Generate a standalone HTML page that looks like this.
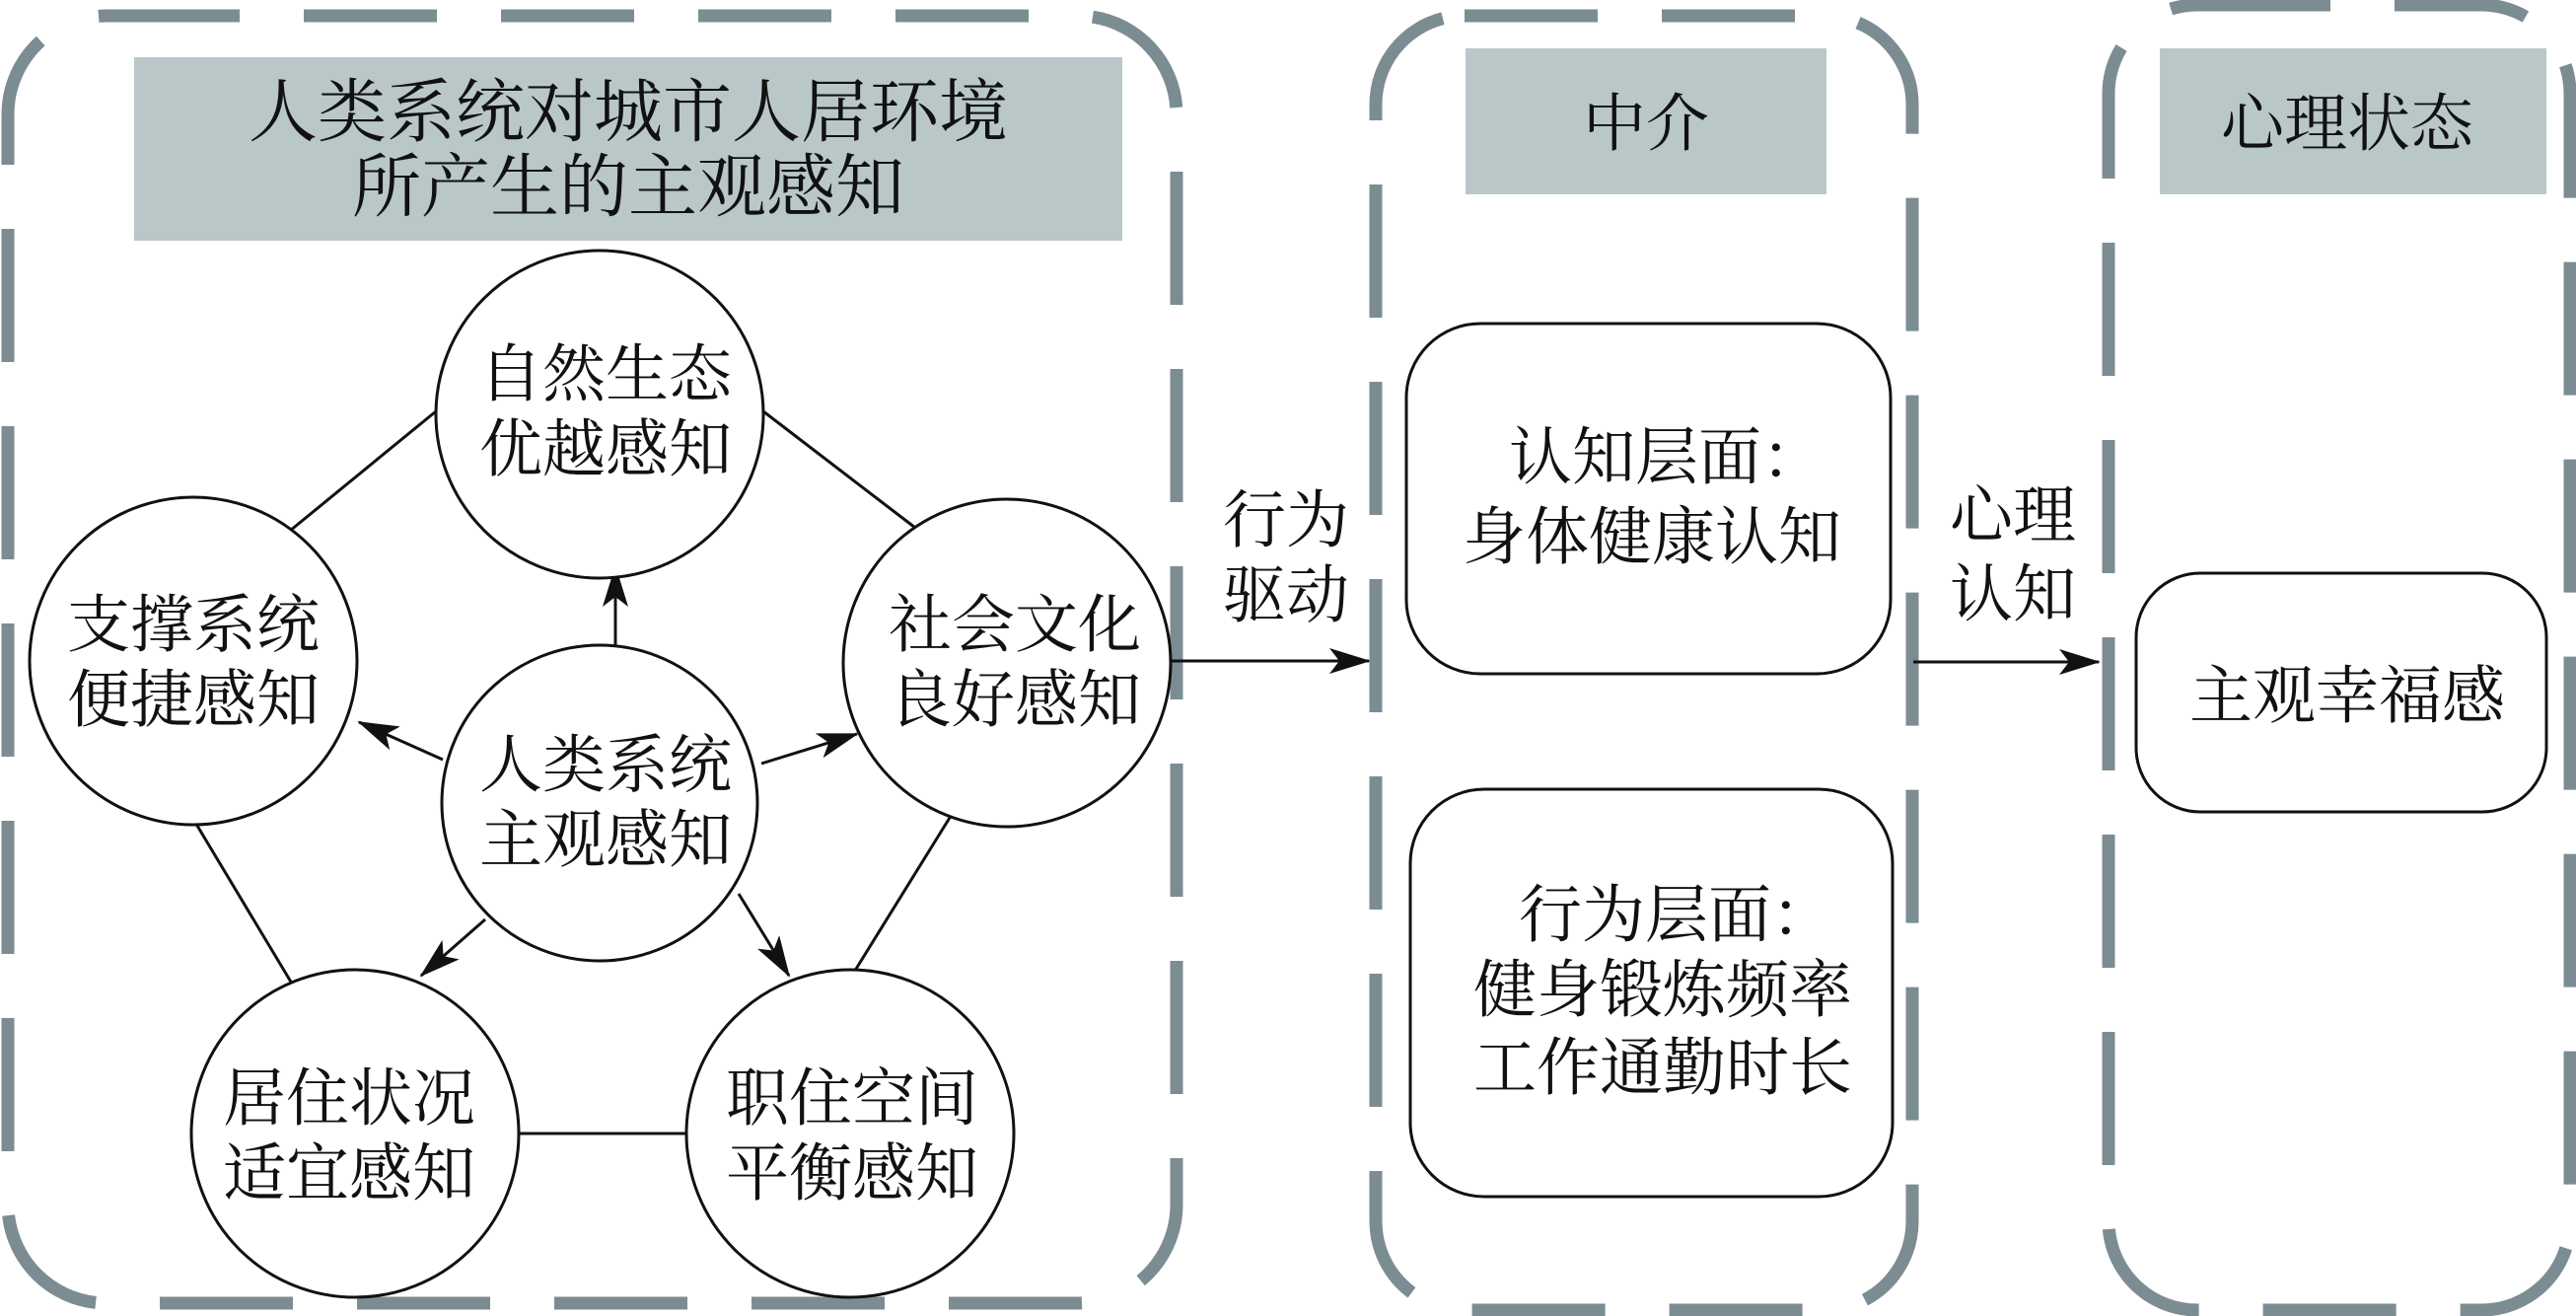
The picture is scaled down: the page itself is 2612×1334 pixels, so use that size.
<!DOCTYPE html>
<html><head><meta charset="utf-8"><style>
html,body{margin:0;padding:0;background:#fff;}
svg{display:block;}
text{font-family:"Liberation Serif","Noto Serif CJK SC",serif;fill:#111;text-anchor:middle;dominant-baseline:central;}
</style></head><body>
<svg width="2612" height="1334" viewBox="0 0 2612 1334" xmlns="http://www.w3.org/2000/svg">
<defs>
<marker id="ah" markerWidth="44" markerHeight="26" refX="40" refY="13" orient="auto" markerUnits="userSpaceOnUse">
<path d="M0,0 L42,13 L0,26 L10,13 Z" fill="#111"/>
</marker>
</defs>
<g fill="none" stroke="#7b8d93" stroke-width="13" stroke-dasharray="135 65">
<rect x="8" y="16" width="1185" height="1305" rx="100"/>
<rect x="1395" y="16" width="544" height="1312" rx="90"/>
<rect x="2138" y="5" width="468" height="1323" rx="90"/>
</g>
<rect x="136" y="58" width="1002" height="186" fill="#b9c7c9"/>
<rect x="1486" y="49" width="366" height="148" fill="#b9c7c9"/>
<rect x="2190" y="49" width="392" height="148" fill="#b9c7c9"/>
<text x="637" y="115" font-size="70">人类系统对城市人居环境</text>
<text x="637" y="191" font-size="70">所产生的主观感知</text>
<text x="1669" y="126" font-size="64">中介</text>
<text x="2380" y="126" font-size="64">心理状态</text>
<g stroke="#111" stroke-width="3" fill="none">
<line x1="294" y1="538" x2="442" y2="417"/>
<line x1="774" y1="417" x2="932" y2="538"/>
<line x1="197" y1="832" x2="296" y2="997"/>
<line x1="966" y1="824" x2="865" y2="987"/>
<line x1="526" y1="1149" x2="696" y2="1149"/>
<line x1="624" y1="655" x2="624" y2="575" marker-end="url(#ah)"/>
<line x1="449" y1="770" x2="364" y2="732" marker-end="url(#ah)"/>
<line x1="772" y1="774" x2="869" y2="744" marker-end="url(#ah)"/>
<line x1="492" y1="932" x2="427" y2="989" marker-end="url(#ah)"/>
<line x1="749" y1="906" x2="800" y2="989" marker-end="url(#ah)"/>
<line x1="1187" y1="670" x2="1388" y2="670" marker-end="url(#ah)"/>
<line x1="1940" y1="671" x2="2128" y2="671" marker-end="url(#ah)"/>
</g>
<g stroke="#111" stroke-width="3" fill="#fff">
<circle cx="608" cy="420" r="166"/>
<circle cx="196" cy="670" r="166"/>
<circle cx="1021" cy="672" r="166"/>
<circle cx="608" cy="814" r="160"/>
<circle cx="360" cy="1149" r="166"/>
<circle cx="862" cy="1149" r="166"/>
<rect x="1426" y="328" width="491" height="355" rx="75"/>
<rect x="1430" y="800" width="489" height="413" rx="75"/>
<rect x="2166" y="581" width="416" height="242" rx="65"/>
</g>
<g font-size="64">
<text x="614" y="380">自然生态</text><text x="614" y="456">优越感知</text>
<text x="196" y="634">支撑系统</text><text x="196" y="710">便捷感知</text>
<text x="1029" y="634">社会文化</text><text x="1029" y="710">良好感知</text>
<text x="614" y="776">人类系统</text><text x="614" y="852">主观感知</text>
<text x="354" y="1114">居住状况</text><text x="354" y="1190">适宜感知</text>
<text x="864" y="1114">职住空间</text><text x="864" y="1190">平衡感知</text>
<text x="1304" y="528">行为</text><text x="1304" y="604">驱动</text>
<text x="2041" y="523">心理</text><text x="2041" y="603">认知</text>
<text x="1690" y="464">认知层面：</text><text x="1675" y="545">身体健康认知</text>
<text x="1700" y="928">行为层面：</text><text x="1686" y="1004">健身锻炼频率</text><text x="1686" y="1083">工作通勤时长</text>
<text x="2380" y="706">主观幸福感</text>
</g>
</svg>
</body></html>
